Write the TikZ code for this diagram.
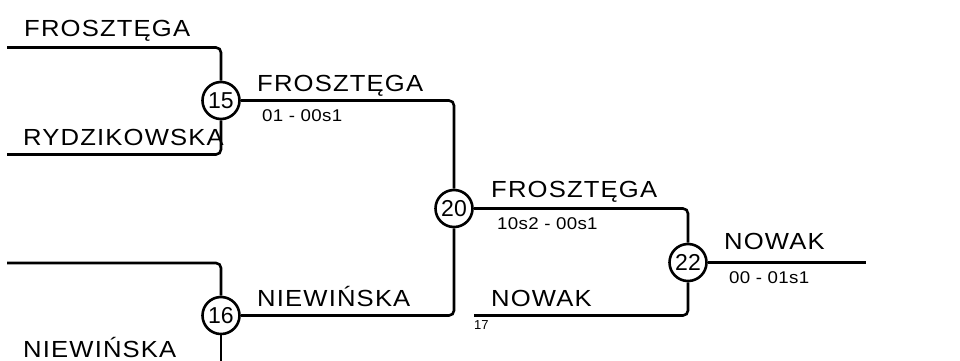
\documentclass[tikz,border=0pt]{standalone}
\usepackage{fontspec}
\setmainfont{Liberation Sans}
\newfontfamily\lblfont[FakeStretch=1.1,LetterSpace=5]{Liberation Sans}
\newfontfamily\scorefont[FakeStretch=1.1,LetterSpace=2]{Liberation Sans}
\newfontfamily\numfont{Liberation Sans}
\begin{document}
\begin{tikzpicture}[x=1pt,y=-1pt,
  wire/.style={line width=2.6pt,rounded corners=5pt},
  match/.style={circle,draw,line width=2.6pt,minimum size=37pt,inner sep=0pt,font=\numfont\fontsize{23}{23}\selectfont},
  lbl/.style={anchor=base west,inner sep=0pt,font=\lblfont\fontsize{23.3}{24}\selectfont},
  score/.style={anchor=base west,inner sep=0pt,font=\scorefont\fontsize{17}{18}\selectfont},
  tiny/.style={anchor=base west,inner sep=0pt,font=\numfont\fontsize{13}{14}\selectfont}]
\useasboundingbox (0,0) rectangle (960,360);
% match nodes
\node[match] (m15) at (221,100.5) {15};
\node[match] (m16) at (221,315.5) {16};
\node[match] (m20) at (454,208.5) {20};
\node[match] (m22) at (688,262.5) {22};
% free ends
\coordinate (a1) at (7,47.5);
\coordinate (a2) at (7,154.5);
\coordinate (b1) at (7,263);
\coordinate (b2) at (221,362);
\coordinate (c2) at (474,315.5);
\coordinate (fin) at (866,262.5);
% wires
\draw[wire] (a1) -| (m15.north);
\draw[wire] (a2) -| (m15.south);
\draw[wire] (m15.east) -| (m20.north);
\draw[wire] (b1) -| (m16.north);
\draw[wire] (m16.south) -- (b2);
\draw[wire] (m16.east) -| (m20.south);
\draw[wire] (m20.east) -| (m22.north);
\draw[wire] (c2) -| (m22.south);
\draw[wire] (m22.east) -- (fin);
% labels
\node[lbl] (t1) at (24,36) {FROSZTĘGA};
\node[lbl] (t2) at (23,145) {RYDZIKOWSKA};
\node[lbl] (t3) at (257,91) {FROSZTĘGA};
\node[score] (s3) at (262,121.5) {01 - 00s1};
\node[lbl] (t4) at (257,306) {NIEWIŃSKA};
\node[lbl] (t5) at (23,357) {NIEWIŃSKA};
\node[lbl] (t6) at (491,197) {FROSZTĘGA};
\node[score] (s6) at (497,229) {10s2 - 00s1};
\node[lbl] (t7) at (491,306) {NOWAK};
\node[tiny] (n17) at (474,329) {17};
\node[lbl] (t8) at (724,249) {NOWAK};
\node[score] (s8) at (729,283) {00 - 01s1};
\end{tikzpicture}
\end{document}
